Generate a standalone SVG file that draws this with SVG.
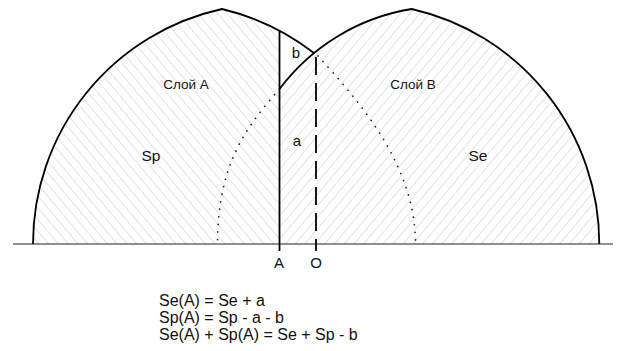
<svg xmlns="http://www.w3.org/2000/svg" width="621" height="351" viewBox="0 0 621 351">
<style>
.t{font-family:"Liberation Sans",Arial,sans-serif;fill:#111;}
.out{fill:none;stroke:#000;stroke-width:1.8;}
.dot{fill:none;stroke:#222;stroke-width:1.7;stroke-dasharray:0.1 7.5;stroke-linecap:round;}
</style>
<defs>
<pattern id="hb" width="7.5" height="7.5" patternUnits="userSpaceOnUse" patternTransform="rotate(-40)">
<line x1="0" y1="0" x2="0" y2="7.5" stroke="#c8c8c8" stroke-width="1"/>
</pattern>
<pattern id="hf" width="7.5" height="7.5" patternUnits="userSpaceOnUse" patternTransform="rotate(40)">
<line x1="0" y1="0" x2="0" y2="7.5" stroke="#c8c8c8" stroke-width="1"/>
</pattern>
</defs>
<rect width="621" height="351" fill="#fff"/>
<g id="layerA">
<path d="M33,244 A240.6,240.6 0 0 1 222,9 A241.5,241.5 0 0 1 279.5,30.8 L279.5,244 Z" fill="url(#hb)"/>
<path class="out" d="M33,244 A240.6,240.6 0 0 1 222,9 A241.5,241.5 0 0 1 314.3,53.3"/>
<text class="t" x="186" y="89" font-size="13.5" text-anchor="middle">Слой А</text>
<text class="t" x="151" y="161" font-size="15.5" text-anchor="middle">Sp</text>
</g>
<g id="layerB">
<path d="M279.5,89 A206.3,206.3 0 0 1 411.7,9 A241,241 0 0 1 599.3,244 L279.5,244 Z" fill="url(#hf)"/>
<path class="out" d="M279.5,89 A206.3,206.3 0 0 1 411.7,9 A241,241 0 0 1 599.3,244"/>
<text class="t" x="413" y="89" font-size="13.5" text-anchor="middle">Слой В</text>
<text class="t" x="478" y="161" font-size="15.5" text-anchor="middle">Se</text>
</g>
<g id="regions">
<text class="t" x="296" y="57.5" font-size="15" text-anchor="middle">b</text>
<text class="t" x="297" y="146" font-size="15" text-anchor="middle">a</text>
</g>
<g id="connectors">
<path class="dot" d="M318,56 C358.2,100.4 415.5,164 415.5,244"/>
<path class="dot" d="M279.5,89 C246.5,126.5 217.5,164 217.5,244"/>
<path d="M13,244 H613" stroke="#222" stroke-width="1.2"/>
<path class="out" d="M279.5,30.8 V251"/>
<path d="M316,57 V244" fill="none" stroke="#000" stroke-width="1.8" stroke-dasharray="18 8"/>
<path d="M316,244 V251" stroke="#000" stroke-width="1.8"/>
</g>
<g id="axisLabels">
<text class="t" x="279" y="268" font-size="15" text-anchor="middle">A</text>
<text class="t" x="316" y="268" font-size="15" text-anchor="middle">O</text>
</g>
<g id="formulas" class="t" font-size="16">
<text x="159" y="306">Se(A) = Se + a</text>
<text x="159" y="323">Sp(A) = Sp - a - b</text>
<text x="159" y="340">Se(A) + Sp(A) = Se + Sp - b</text>
</g>
</svg>
